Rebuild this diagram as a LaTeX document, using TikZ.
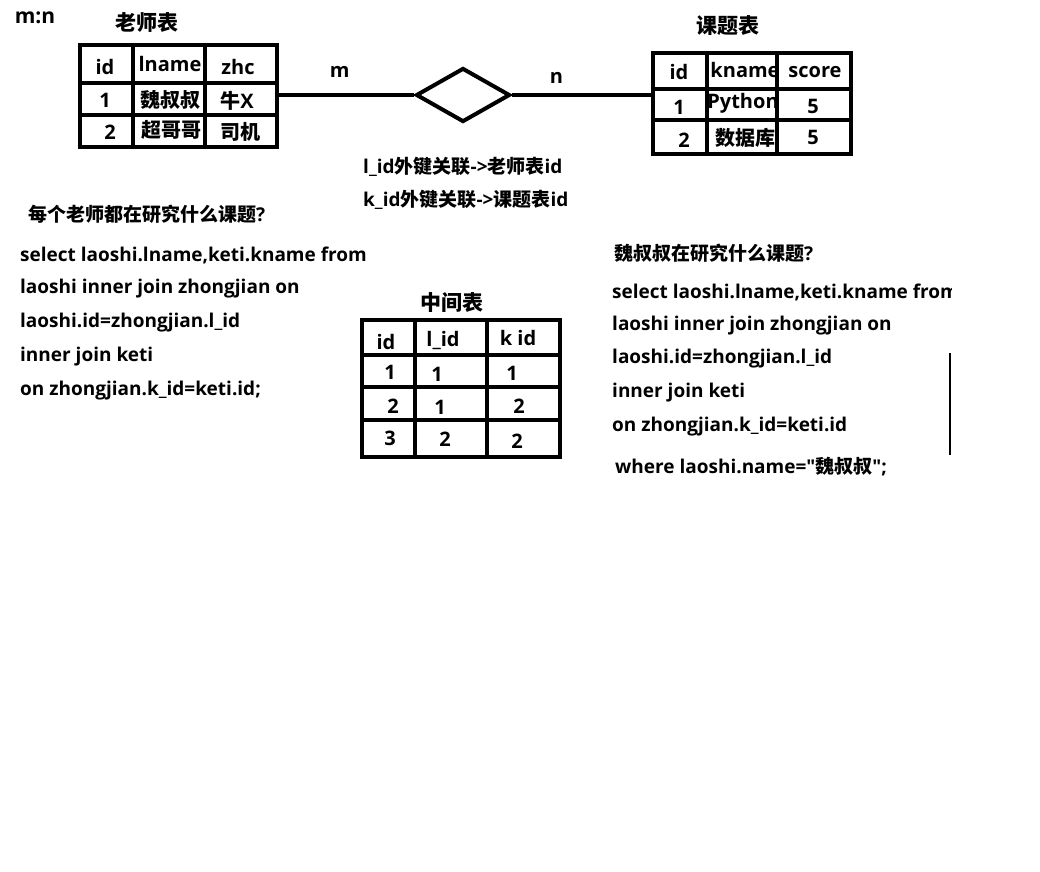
\documentclass[tikz,border=0pt]{standalone}
\usepackage{fontspec}
\newfontfamily\lat{Open Sans}
\newfontfamily\cjk{Noto Sans CJK SC}
\usetikzlibrary{positioning,shapes.geometric}
\newcommand{\zh}[1]{{\cjk #1}}

\tikzset{
  tbl/.style={line width=4pt},
  cell/.style={font=\fontsize{20}{20}\selectfont\lat\bfseries, inner sep=0pt},
  code/.style={font=\fontsize{19}{19}\selectfont\lat\bfseries, anchor=west, inner sep=0pt},
  title/.style={font=\fontsize{21}{21}\selectfont\lat\bfseries, inner sep=0pt}
}

\begin{document}
\begin{tikzpicture}[x=1pt,y=-1pt]
    \useasboundingbox (0,0) rectangle (1040,871);
    \node[title](mn) at (35,18){m:n};
    % teacher table
    \node[title](lsT) at (147,23){\zh{老师表}};
    \node[draw,tbl,minimum width=197pt,minimum height=102pt,inner sep=0pt](laoshi) at (178.5,96){};
    \draw[tbl] (133,45) -- (133,147) (205,45) -- (205,147)
               (80,83) -- (277,83) (80,115) -- (277,115);
    \node[cell](l11) at (105,67){id};
    \node[cell](l12) at (170,64){lname};
    \node[cell](l13) at (238,67){zhc};
    \node[cell](l21) at (105,100){1};
    \node[cell](l22) at (170,100){\zh{魏叔叔}};
    \node[cell](l23) at (237,101){\zh{牛}X};
    \node[cell](l31) at (110,132){2};
    \node[cell](l32) at (171,130){\zh{超哥哥}};
    \node[cell](l33) at (240,132){\zh{司机}};
    % relation
    \node[draw,diamond,tbl,minimum width=94pt,minimum height=54pt,inner sep=0pt](rel) at (463,95){};
    % course table
    \node[title](ktT) at (728,26){\zh{课题表}};
    \node[draw,tbl,minimum width=198pt,minimum height=101pt,inner sep=0pt](keti) at (752,103.5){};
    \draw[tbl] (707,53) -- (707,154) (777,53) -- (777,154)
               (653,89) -- (851,89) (653,120) -- (851,120);
    \node[cell](k11) at (679,72){id};
    \node[cell](k12) at (745,70){kname};
    \node[cell](k13) at (815,72){score};
    \node[cell](k21) at (679,107){1};
    \node[cell](k22) at (743,103){Python};
    \node[cell](k23) at (813,106){5};
    \node[cell](k31) at (684,140){2};
    \node[cell](k32) at (745,138){\zh{数据库}};
    \node[cell](k33) at (813,137){5};
    \path[tbl]
    (rel.west) edge node[cell,pos=0.55,above=16pt]{m} (rel.west -| laoshi.east)
    (rel.east) edge node[cell,pos=0.32,above=10pt]{n} (rel.east -| keti.west);
    \node[code](fk1) at (363,167){l\_id\zh{外键关联}->\zh{老师表}id};
    \node[code](fk2) at (363,200){k\_id\zh{外键关联}->\zh{课题表}id};
    % middle table
    \node[title](zjT) at (452,303){\zh{中间表}};
    \node[draw,tbl,minimum width=198pt,minimum height=137pt,inner sep=0pt](zhong) at (461,388.5){};
    \draw[tbl] (415,320) -- (415,457) (487,320) -- (487,457)
               (362,355) -- (560,355) (362,387) -- (560,387) (362,420) -- (560,420);
    \node[cell](z11) at (386,342){id};
    \node[cell](z12) at (443,340){l\_id};
    \node[cell](z13) at (518,338){k id};
    \node[cell](z21) at (390,372){1};
    \node[cell](z22) at (437,374){1};
    \node[cell](z23) at (512,373){1};
    \node[cell](z31) at (393,406){2};
    \node[cell](z32) at (440,407){1};
    \node[cell](z33) at (519,406){2};
    \node[cell](z41) at (390,438){3};
    \node[cell](z42) at (445,439){2};
    \node[cell](z43) at (517,441){2};
    % query 1
    \node[code](q1) at (28,214){\zh{每个老师都在研究什么课题}?};
    \node[code](a1) at (20,255){select laoshi.lname,keti.kname from};
    \node[code](a2) at (20,289){laoshi inner join zhongjian on};
    \node[code](a3) at (20,323){laoshi.id=zhongjian.l\_id};
    \node[code](a4) at (20,357){inner join keti};
    \node[code](a5) at (20,391){on zhongjian.k\_id=keti.id;};
    % query 2
    \node[code](q2) at (614,253){\zh{魏叔叔在研究什么课题}?};
    \begin{scope}
      \clip (600,270) rectangle (951,312);
      \node[code](b1) at (612,292){select laoshi.lname,keti.kname from};
    \end{scope}
    \node[code](b2) at (612,326){laoshi inner join zhongjian on};
    \node[code](b3) at (612,359){laoshi.id=zhongjian.l\_id};
    \node[code](b4) at (612,393){inner join keti};
    \node[code](b5) at (612,427){on zhongjian.k\_id=keti.id};
    \node[code](b6) at (615,467){where laoshi.name="\zh{魏叔叔}";};
    \draw[line width=1.5pt] (950,353) -- (950,455);
\end{tikzpicture}
\end{document}
